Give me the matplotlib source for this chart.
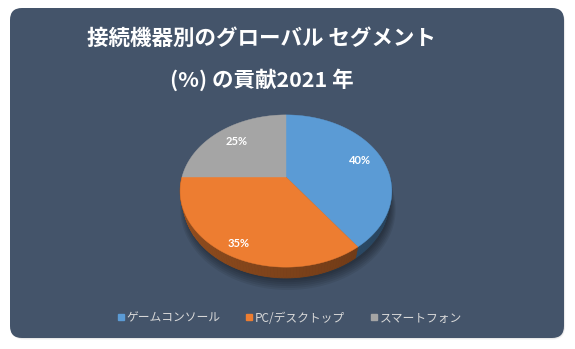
import numpy as np
import matplotlib
matplotlib.use("Agg")
import matplotlib.pyplot as plt
from matplotlib.patches import FancyBboxPatch, Polygon
from matplotlib.lines import Line2D

plt.rcParams['font.family'] = ['Noto Sans CJK JP', 'DejaVu Sans']

# data
categories = ['ゲームコンソール', 'PC/デスクトップ', 'スマートフォン']
shares = [40, 35, 25]
label_texts = ['40%', '35%', '25%']
title_lines = ['接続機器別のグローバル セグメント', '(%) の貢献2021 年']

# styles
top_colors = ['#5B9BD5', '#ED7D31', '#A5A5A5']
label_radii = [0.78, 0.87, 0.74]
panel_color = '#44546A'

W, H = 575, 349
fig = plt.figure(figsize=(W / 100, H / 100), dpi=100)
fig.patch.set_facecolor('white')
ax = fig.add_axes([0, 0, 1, 1])
ax.set_xlim(0, W)
ax.set_ylim(H, 0)
ax.axis('off')

# soft drop shadow and rounded panel
for k, a in enumerate([0.05, 0.05, 0.05]):
    ax.add_patch(FancyBboxPatch((10 + k * 0.6, 8 + k * 0.8), 554, 330,
                                boxstyle='round,pad=0,rounding_size=13',
                                fc='black', ec='none', alpha=a, zorder=0))
ax.add_patch(FancyBboxPatch((10, 8), 554, 330,
                            boxstyle='round,pad=0,rounding_size=12',
                            fc=panel_color, ec='none', zorder=1))

# perspective projection of a tilted disc
cx, cy = 286, 177
S = 104
tilt = np.deg2rad(45)
D = 3.84
thick = 0.16


def project(theta, r=1.0, h=0.0):
    x = r * np.cos(theta)
    y = r * np.sin(theta)
    Y = y * np.cos(tilt) - h * np.sin(tilt)
    Z = y * np.sin(tilt) + h * np.cos(tilt)
    f = D / (D + Z)
    return cx + S * x * f, cy - S * Y * f


total = float(sum(shares))
bounds = 90 - np.cumsum([0] + shares) / total * 360  # clockwise from 12 o'clock

# shadow beneath the pie
th = np.linspace(0, 2 * np.pi, 200)
for k in range(6):
    sx, sy = project(th, r=1.0 + 0.012 * k, h=thick + 0.02 + 0.01 * k)
    ax.add_patch(Polygon(np.column_stack([sx + 2, sy + 1]), closed=True,
                         fc='black', ec='none', alpha=0.07, zorder=2))

# side walls (front half only)
for i in range(len(shares)):
    t0, t1 = bounds[i], bounds[i + 1]
    lo, hi = max(t1, -180), min(t0, 0)
    if hi <= lo:
        continue
    base = np.array(matplotlib.colors.to_rgb(top_colors[i]))
    steps = np.linspace(lo, hi, int((hi - lo) / 1.5) + 2)
    for a0, a1 in zip(steps[:-1], steps[1:]):
        mid = 0.5 * (a0 + a1)
        shade = 0.66 - 0.26 * (mid + 180) / 180
        col = np.clip(base * shade, 0, 1)
        ta = np.deg2rad([a0, a1])
        x1, y1 = project(ta, h=0)
        x2, y2 = project(ta[::-1], h=thick)
        pts = np.column_stack([np.r_[x1, x2], np.r_[y1, y2]])
        ax.add_patch(Polygon(pts, closed=True, fc=col, ec=col, lw=0.6, zorder=3))

# top faces
for i in range(len(shares)):
    t0, t1 = bounds[i], bounds[i + 1]
    arc = np.deg2rad(np.linspace(t0, t1, 120))
    ax_, ay_ = project(arc)
    pts = np.vstack([[cx, cy], np.column_stack([ax_, ay_])])
    ax.add_patch(Polygon(pts, closed=True, fc=top_colors[i], ec=top_colors[i],
                         lw=0.3, zorder=4))

# value labels
for i in range(len(shares)):
    mid = np.deg2rad(0.5 * (bounds[i] + bounds[i + 1]))
    lx, ly = project(mid, r=label_radii[i])
    ax.text(lx, ly, label_texts[i], color='white', fontsize=8, fontweight='bold',
            family=['Lato', 'DejaVu Sans'], ha='center', va='center', zorder=5)

# title
ax.text(261, 38, title_lines[0], color='white', fontsize=15.5, fontweight='bold',
        ha='center', va='center', zorder=5)
ax.text(262, 80, title_lines[1], color='white', fontsize=15.5, fontweight='bold',
        ha='center', va='center', zorder=5)

# legend
handles = [Line2D([], [], marker='s', ls='none', color=c, markersize=5) for c in top_colors]
fig.legend(handles, categories, loc='center', bbox_to_anchor=(289 / W, 1 - 318 / H),
           ncol=3, frameon=False, labelcolor='#D9D9D9', fontsize=8.5,
           handletextpad=0.1, columnspacing=2.0, handlelength=0.8)

fig.savefig('out.png', dpi=100, facecolor='white')
